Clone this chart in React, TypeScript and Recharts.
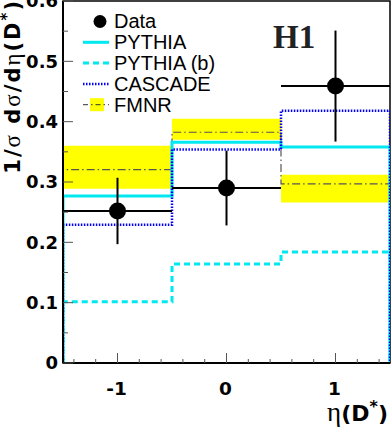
import {
  ComposedChart,
  Line,
  Area,
  Scatter,
  ErrorBar,
  XAxis,
  YAxis,
  ReferenceArea,
  Legend,
} from 'recharts'

// eta(D*) bins
const binEdges = [-1.5, -0.5, 0.5, 1.5]
const binCentres = [-1, 0, 1]
const binHalfWidths = [0.5, 0.5, 0.5]

// H1 data (normalised cross section)
const dataValues = [0.252, 0.29, 0.459]
const dataErrors = [0.055, 0.062, 0.092]

// model predictions per bin
const pythia = [0.277, 0.366, 0.358]
const pythiaB = [0.1015, 0.164, 0.184]
const cascade = [0.229, 0.354, 0.418]
const fmnr = [0.3205, 0.3825, 0.297]
const fmnrLow = [0.289, 0.37, 0.266]
const fmnrHigh = [0.36, 0.405, 0.312]

const xTicks = [-1.4, -1.2, -1, -0.8, -0.6, -0.4, -0.2, 0, 0.2, 0.4, 0.6, 0.8, 1, 1.2, 1.4]
const xLabels = [-1, 0, 1]
const yTicks = [0, 0.05, 0.1, 0.15, 0.2, 0.25, 0.3, 0.35, 0.4, 0.45, 0.5, 0.55, 0.6]
const yLabels = ['0', '0.1', '0.2', '0.3', '0.4', '0.5', '0.6']

const legendNames = ['Data', 'PYTHIA', 'PYTHIA (b)', 'CASCADE', 'FMNR']

const SANS = "'Liberation Sans', Arial, sans-serif"
const SANS_BOLD = "'DejaVu Sans', sans-serif"
const SERIF = "'Liberation Serif', 'Times New Roman', serif"

const CYAN = '#00e8f0'
const BLUE = '#0000ff'
const YELLOW = '#ffff00'

// histogram outline: drop to zero at both outer edges, like ROOT
const histPoints = (vals: number[]) => {
  const last = binEdges.length - 1
  return [
    { x: binEdges[0], y: 0 },
    ...vals.map((v, i) => ({ x: binEdges[i], y: v })),
    { x: binEdges[last], y: vals[vals.length - 1] },
    { x: binEdges[last], y: 0 },
  ]
}

const bandPoints = [
  ...fmnrLow.map((lo, i) => ({ x: binEdges[i], band: [lo, fmnrHigh[i]] })),
  { x: binEdges[binEdges.length - 1], band: [fmnrLow[fmnrLow.length - 1], fmnrHigh[fmnrHigh.length - 1]] },
]

const dataPoints = binCentres.map((x, i) => ({
  x,
  y: dataValues[i],
  ex: binHalfWidths[i],
  ey: dataErrors[i],
}))

const YTick = ({ x, y, payload }: any) => {
  const label = String(Math.round(payload.value * 100) / 100)
  const major = yLabels.includes(label)
  return (
    <g>
      <line x1={x} x2={x + (major ? 10 : 5)} y1={y} y2={y} stroke="#555" strokeWidth={1} />
      {major && (
        <text x={x - 5} y={y} dy="0.36em" textAnchor="end" fontFamily={SANS_BOLD} fontWeight="bold" fontSize={18} fill="#000">
          {label}
        </text>
      )}
    </g>
  )
}

const XTick = ({ x, y, payload }: any) => {
  const v = Math.round(payload.value * 10) / 10
  const major = xLabels.includes(v)
  return (
    <g>
      <line x1={x} x2={x} y1={y} y2={y - (major ? 10 : 4)} stroke="#555" strokeWidth={1} />
      {major && (
        <text x={x - 1} y={y + 32} textAnchor="middle" fontFamily={SANS_BOLD} fontWeight="bold" fontSize={18.5} fill="#000">
          {String(v)}
        </text>
      )}
    </g>
  )
}

const YTitle = () => (
  <text transform="translate(20,-1) rotate(-90)" textAnchor="end" fontFamily={SANS_BOLD} fontWeight="bold" fontSize={21} letterSpacing={2} fill="#000">
    1/<tspan fontFamily={SERIF} fontWeight="normal" fontSize={23}>σ</tspan> d<tspan fontFamily={SERIF} fontWeight="normal" fontSize={23}>σ</tspan>/d<tspan fontFamily={SERIF} fontWeight="normal" fontSize={23}>η</tspan>(D<tspan fontSize={15} dy={-8}>*</tspan><tspan dy={8}>)</tspan>
  </text>
)

const XTitle = () => (
  <text x={388} y={421} textAnchor="end" fontFamily={SANS_BOLD} fontWeight="bold" fontSize={22} fill="#000">
    <tspan fontFamily={SERIF} fontWeight="normal" fontSize={27}>η</tspan>(D<tspan fontSize={16} dy={-9}>*</tspan><tspan dy={9}>)</tspan>
  </text>
)

const LegendBox = () => {
  const rowY = (i: number) => 11.5 + 20.8 * i
  return (
    <svg width={180} height={112} style={{ display: 'block' }}>
      <circle cx={20} cy={rowY(0)} r={6.5} fill="#000" />
      <line x1={3} x2={29} y1={rowY(1)} y2={rowY(1)} stroke={CYAN} strokeWidth={3} />
      <line x1={3} x2={29} y1={rowY(2)} y2={rowY(2)} stroke={CYAN} strokeWidth={3} strokeDasharray="6 4" />
      <line x1={3} x2={29} y1={rowY(3)} y2={rowY(3)} stroke={BLUE} strokeWidth={2.5} strokeDasharray="1.5 1.5" />
      <rect x={10} y={rowY(4) - 6.5} width={14} height={13} fill={YELLOW} />
      <line x1={3} x2={29} y1={rowY(4)} y2={rowY(4)} stroke="#333" strokeWidth={1} strokeDasharray="5 3 1.5 3" />
      {legendNames.map((name, i) => (
        <text key={name} x={34} y={rowY(i) + 6.8} fontFamily={SANS} fontSize={20} fill="#000">
          {name}
        </text>
      ))}
    </svg>
  )
}

export default function App() {
  return (
    <div style={{ position: 'absolute', left: 0, top: 0 }}>
      <ComposedChart width={392} height={435} margin={{ top: 1, right: 2, bottom: 0, left: 0 }}>
        <XAxis
          type="number"
          dataKey="x"
          domain={[-1.5, 1.5]}
          allowDataOverflow
          ticks={xTicks}
          interval={0}
          tick={<XTick />}
          tickLine={false}
          tickSize={0}
          tickMargin={0}
          height={72}
          axisLine={{ stroke: '#000', strokeWidth: 2 }}
          label={{ content: () => <XTitle /> }}
        />
        <YAxis
          type="number"
          domain={[0, 0.6]}
          allowDataOverflow
          ticks={yTicks}
          interval={0}
          tick={<YTick />}
          tickLine={false}
          tickSize={0}
          tickMargin={0}
          width={63}
          axisLine={{ stroke: '#000', strokeWidth: 2 }}
          label={{ content: () => <YTitle /> }}
        />
        <ReferenceArea x1={-1.5} x2={1.5} y1={0} y2={0.6} fill="none" stroke="#000" strokeWidth={1.5} ifOverflow="visible" />
        <Legend
          layout="vertical"
          align="center"
          verticalAlign="middle"
          wrapperStyle={{ left: 80, top: 10, width: 180 }}
          content={() => <LegendBox />}
        />
        <Area data={bandPoints} dataKey="band" type="stepAfter" fill={YELLOW} fillOpacity={1} stroke="none" isAnimationActive={false} />
        <Line data={histPoints(fmnr)} dataKey="y" type="stepAfter" stroke="#555" strokeWidth={1.2} strokeDasharray="8 3 1.5 3" dot={false} isAnimationActive={false} />
        <Line data={histPoints(pythia)} dataKey="y" type="stepAfter" stroke={CYAN} strokeWidth={3} dot={false} isAnimationActive={false} />
        <Line data={histPoints(pythiaB)} dataKey="y" type="stepAfter" stroke={CYAN} strokeWidth={3} strokeDasharray="6 4" dot={false} isAnimationActive={false} />
        <Line data={histPoints(cascade)} dataKey="y" type="stepAfter" stroke={BLUE} strokeWidth={2.5} strokeDasharray="1.5 1.5" dot={false} isAnimationActive={false} />
        <Scatter
          data={dataPoints}
          dataKey="y"
          fill="#000"
          isAnimationActive={false}
          shape={(p: any) => <circle cx={p.cx} cy={p.cy} r={8.5} fill="#000" />}
        >
          <ErrorBar dataKey="ey" direction="y" width={0} stroke="#000" strokeWidth={2} />
          <ErrorBar dataKey="ex" direction="x" width={0} stroke="#000" strokeWidth={2} />
        </Scatter>
        <text x={273} y={48} fontFamily={SERIF} fontWeight="bold" fontSize={33} fill="#222">
          H1
        </text>
      </ComposedChart>
    </div>
  )
}
